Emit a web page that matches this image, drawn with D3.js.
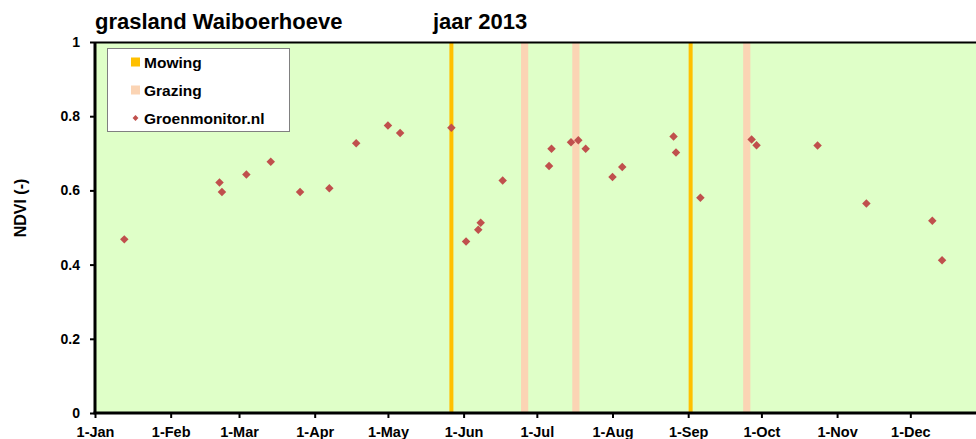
<!DOCTYPE html>
<html><head><meta charset="utf-8">
<script src="https://cdn.jsdelivr.net/npm/d3@7/dist/d3.min.js"></script>
<style>body{margin:0;background:#fff}svg{display:block;font-family:"Liberation Sans",Arial,sans-serif}</style>
</head><body>
<script>
const monthTicks = ["2013-01-01","2013-02-01","2013-03-01","2013-04-01","2013-05-01","2013-06-01","2013-07-01","2013-08-01","2013-09-01","2013-10-01","2013-11-01","2013-12-01"];
const yTicks = [0, 0.2, 0.4, 0.6, 0.8, 1];
const mowingDates = ["2013-05-27","2013-09-02"];
const grazingDates = ["2013-06-26","2013-07-17","2013-09-25"];
const ndviDates = ["2013-01-13","2013-02-21","2013-02-22","2013-03-04","2013-03-14","2013-03-26","2013-04-07","2013-04-18","2013-05-01","2013-05-06","2013-05-27","2013-06-02","2013-06-07","2013-06-08","2013-06-17","2013-07-06","2013-07-07","2013-07-15","2013-07-18","2013-07-21","2013-08-01","2013-08-05","2013-08-26","2013-08-27","2013-09-06","2013-09-27","2013-09-29","2013-10-24","2013-11-13","2013-12-10","2013-12-14"];
const ndviValues = [0.468,0.621,0.596,0.643,0.677,0.596,0.606,0.727,0.775,0.755,0.769,0.462,0.494,0.513,0.627,0.666,0.712,0.730,0.735,0.712,0.636,0.663,0.745,0.702,0.580,0.737,0.722,0.721,0.565,0.518,0.412];

const W = 976, H = 439;
const parse = d3.utcParse("%Y-%m-%d");
const fmt = d3.utcFormat("%-d-%b");
const svg = d3.select("body").append("svg").attr("width", W).attr("height", H);

const x = d3.scaleUtc().domain([parse("2013-01-01"), parse("2014-01-01")]).range([95, 986]);
const y = d3.scaleLinear().domain([0, 1]).range([413, 42]);

// plot background
svg.append("rect").attr("x", 95).attr("y", 42).attr("width", 986 - 95).attr("height", 413 - 42).attr("fill", "#DFFFC8");

// grazing bars
svg.selectAll("rect.graz").data(grazingDates).enter().append("rect")
  .attr("class", "graz")
  .attr("x", d => x(parse(d)) - 3.6).attr("width", 7.2)
  .attr("y", y(1)).attr("height", y(0) - y(1)).attr("fill", "#FBD4B4");
// mowing bars
svg.selectAll("rect.mow").data(mowingDates).enter().append("rect")
  .attr("class", "mow")
  .attr("x", d => x(parse(d)) - 2).attr("width", 4)
  .attr("y", y(1)).attr("height", y(0) - y(1)).attr("fill", "#FFC000");

// top border
svg.append("line").attr("x1", 95).attr("x2", W).attr("y1", 42.5).attr("y2", 42.5).attr("stroke", "#000").attr("stroke-width", 2);

// points
const pts = ndviDates.map((d, i) => ({date: parse(d), v: ndviValues[i]}));
const diamond = d3.symbol().type(d3.symbolDiamond2).size(46);
svg.selectAll("path.pt").data(pts).enter().append("path")
  .attr("class", "pt")
  .attr("d", diamond)
  .attr("transform", d => `translate(${x(d.date)},${y(d.v)})`)
  .attr("fill", "#C0504D");

// axes
const yAxis = d3.axisLeft(y).tickValues(yTicks).tickFormat(d => d3.format("")(+d.toFixed(1))).tickSize(5).tickPadding(10);
const gy = svg.append("g").attr("transform", "translate(95,0)").call(yAxis);
gy.select(".domain").attr("stroke-width", 3).attr("d", "M0,42V413");
gy.selectAll(".tick line").attr("stroke-width", 2);
gy.selectAll("text").attr("font-size", 14).attr("font-weight", "bold").attr("fill", "#000").attr("font-family", "'Liberation Sans',Arial,sans-serif");

const xAxis = d3.axisBottom(x).tickValues(monthTicks.map(parse)).tickFormat(fmt).tickSize(5).tickPadding(9);
const gx = svg.append("g").attr("transform", "translate(0,413)").call(xAxis);
gx.select(".domain").attr("stroke-width", 3).attr("d", "M93.5,0H986");
gx.selectAll(".tick line").attr("stroke-width", 2);
gx.selectAll("text").attr("font-size", 14.5).attr("font-weight", "bold").attr("fill", "#000").attr("font-family", "'Liberation Sans',Arial,sans-serif");

// y label
svg.append("text").attr("transform", "translate(26,208) rotate(-90)").attr("text-anchor", "middle")
  .attr("font-size", 16).attr("font-weight", "bold").text("NDVI (-)");

// titles
svg.append("text").attr("x", 95).attr("y", 29).attr("font-size", 22).attr("font-weight", "bold").text("grasland Waiboerhoeve");
svg.append("text").attr("x", 433).attr("y", 29).attr("font-size", 22).attr("font-weight", "bold").text("jaar 2013");

// legend
const lg = svg.append("g");
lg.append("rect").attr("x", 107.5).attr("y", 48.5).attr("width", 182).attr("height", 83).attr("fill", "#fff").attr("stroke", "#808080").attr("stroke-width", 1);
const legendItems = [
  {label: "Mowing", type: "mow"},
  {label: "Grazing", type: "graz"},
  {label: "Groenmonitor.nl", type: "pt"}
];
legendItems.forEach((it, i) => {
  const cy = 62 + i * 28;
  if (it.type === "mow") lg.append("rect").attr("x", 131).attr("y", cy - 4.5).attr("width", 9).attr("height", 9).attr("fill", "#FFC000");
  else if (it.type === "graz") lg.append("rect").attr("x", 131).attr("y", cy - 4.5).attr("width", 9).attr("height", 9).attr("fill", "#FBD4B4");
  else lg.append("path").attr("d", d3.symbol().type(d3.symbolDiamond2).size(22)).attr("transform", `translate(135.5,${cy})`).attr("fill", "#C0504D");
  lg.append("text").attr("x", 144).attr("y", cy + 5.5).attr("font-size", 15.5).attr("font-weight", "bold").text(it.label);
});
</script>
</body></html>
